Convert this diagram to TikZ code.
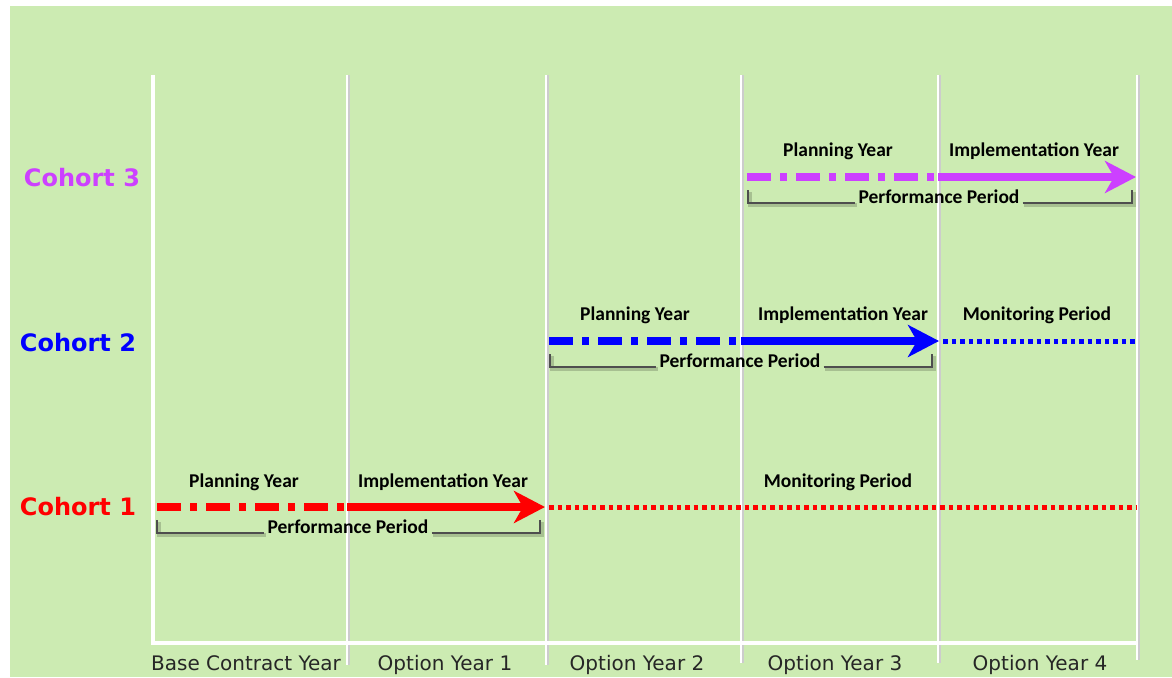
\documentclass[tikz,border=0pt]{standalone}
\usepackage{fontspec}
\newfontfamily\phasefont{Carlito}
\newfontfamily\verdfont{DejaVu Sans}
\usetikzlibrary{arrows.meta}
\definecolor{bggreen}{RGB}{204,235,178}
\definecolor{cohortA}{RGB}{255,0,0}
\definecolor{cohortB}{RGB}{0,0,255}
\definecolor{cohortC}{RGB}{204,64,255}
\definecolor{brackgray}{RGB}{78,78,78}
\definecolor{yeartext}{RGB}{38,38,38}
\tikzset{
  phaselabel/.style={font=\phasefont\bfseries\fontsize{19.5}{21}\selectfont,anchor=base,inner sep=3pt},
  cohortlabel/.style={font=\verdfont\bfseries\fontsize{24}{26}\selectfont},
  yearlabel/.style={font=\verdfont\fontsize{20}{22}\selectfont,text=yeartext,anchor=base},
  planline/.style={line width=8pt,dash pattern=on 24pt off 9pt on 7pt off 9pt},
  implline/.style={line width=8pt,-{Stealth[length=31pt,width=32pt,inset=9pt]}},
  monline/.style={line width=5pt,dash pattern=on 4.5pt off 4pt},
  perfbracket/.style={brackgray,line width=2pt},
  perfshadow/.style={black,opacity=0.18,line width=4pt},
}
\begin{document}
\begin{tikzpicture}[x=1pt,y=-1pt]
\useasboundingbox (0,0) rectangle (1172,677);
\fill[bggreen] (10,6) rectangle (1172,677);
%
\foreach \gx/\gy in {347/665,546/665,741/663,938/663,1137/660}{
  \draw[gray!40,line width=3.5pt] (\gx+0.8,75)--(\gx+0.8,\gy);
  \draw[white,line width=2pt] (\gx,75)--(\gx,\gy);
}
\draw[white,line width=4.5pt] (153,75)--(153,643)--(1137,643);
\foreach \cx/\txt [count=\i] in {246/Base Contract Year,445/Option Year 1,637/Option Year 2,835/Option Year 3,1040/Option Year 4}
  \node[yearlabel] (year\i) at (\cx,670) {\txt};
%
\pgfmathsetmacro{\rowA}{507}
\pgfmathsetmacro{\rowB}{341}
\pgfmathsetmacro{\rowC}{177}
% cohort 1
\node[cohortlabel,text=cohortA] (coh1) at (78,\rowA) {Cohort 1};
\draw[planline,cohortA] (157,\rowA)--(347,\rowA);
\draw[implline,cohortA] (347,\rowA)--(545,\rowA);
\draw[monline,cohortA] (549,\rowA)--(1137,\rowA);
\node[phaselabel] (plan1) at (244,\rowA-20) {Planning Year};
\node[phaselabel] (impl1) at (443,\rowA-20) {Implementation Year};
\node[phaselabel] (mon1) at (838,\rowA-20) {Monitoring Period};
\node[phaselabel] (perf1) at (348,\rowA+26) {Performance Period};
\draw[perfshadow] ([shift={(1.5,2)}]157,\rowA+13)|-([shift={(1.5,2)}]perf1.base west) ([shift={(1.5,2)}]perf1.base east)-|([shift={(1.5,2)}]540,\rowA+13);
\draw[perfbracket] (157,\rowA+13)|-(perf1.base west) (perf1.base east)-|(540,\rowA+13);
% cohort 2
\node[cohortlabel,text=cohortB] (coh2) at (78,\rowB+2) {Cohort 2};
\draw[planline,cohortB] (549,\rowB)--(741,\rowB);
\draw[implline,cohortB] (741,\rowB)--(939,\rowB);
\draw[monline,cohortB] (943,\rowB)--(1137,\rowB);
\node[phaselabel] (plan2) at (635,\rowB-21) {Planning Year};
\node[phaselabel] (impl2) at (843,\rowB-21) {Implementation Year};
\node[phaselabel] (mon2) at (1037,\rowB-21) {Monitoring Period};
\node[phaselabel] (perf2) at (740,\rowB+26) {Performance Period};
\draw[perfshadow] ([shift={(1.5,2)}]550,\rowB+13)|-([shift={(1.5,2)}]perf2.base west) ([shift={(1.5,2)}]perf2.base east)-|([shift={(1.5,2)}]932,\rowB+13);
\draw[perfbracket] (550,\rowB+13)|-(perf2.base west) (perf2.base east)-|(932,\rowB+13);
% cohort 3
\node[cohortlabel,text=cohortC] (coh3) at (82,\rowC+1) {Cohort 3};
\draw[planline,cohortC] (747,\rowC)--(938,\rowC);
\draw[implline,cohortC] (938,\rowC)--(1136,\rowC);
\node[phaselabel] (plan3) at (838,\rowC-21) {Planning Year};
\node[phaselabel] (impl3) at (1034,\rowC-21) {Implementation Year};
\node[phaselabel] (perf3) at (939,\rowC+26) {Performance Period};
\draw[perfshadow] ([shift={(1.5,2)}]748,\rowC+13)|-([shift={(1.5,2)}]perf3.base west) ([shift={(1.5,2)}]perf3.base east)-|([shift={(1.5,2)}]1132,\rowC+13);
\draw[perfbracket] (748,\rowC+13)|-(perf3.base west) (perf3.base east)-|(1132,\rowC+13);
\end{tikzpicture}
\end{document}
